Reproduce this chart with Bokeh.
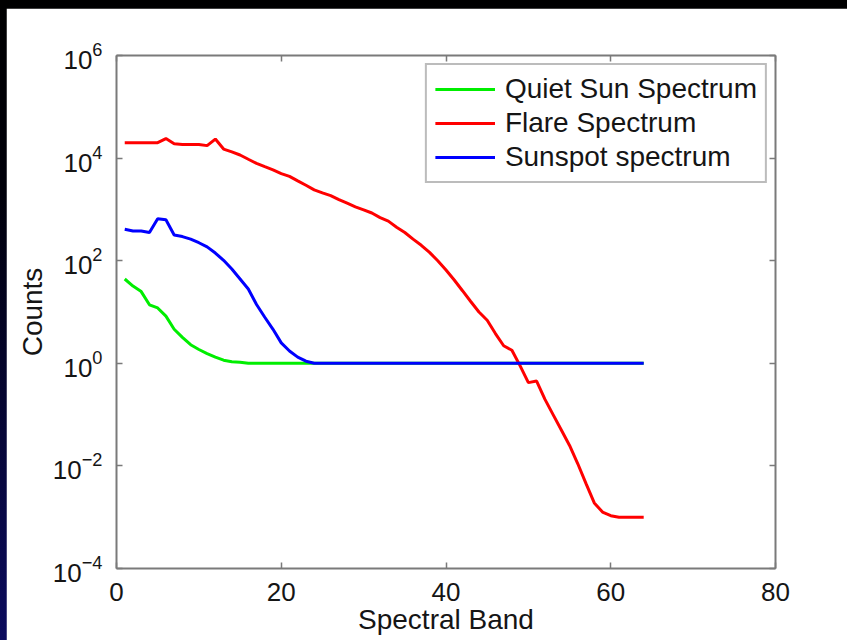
from bokeh.plotting import figure
from bokeh.models import (LinearAxis, LogAxis, FixedTicker, Legend, LegendItem,
                          Range1d)
from bokeh.layouts import column
from bokeh.embed import file_html
from bokeh.resources import INLINE

# Spectral band index and counts for each spectrum
bands = list(range(1, 65))

quiet_sun = [44, 32, 25, 13.8, 12, 8.3, 4.6, 3.2, 2.3, 1.86, 1.55, 1.32, 1.15,
             1.07, 1.05] + [1.0] * 49

flare = [2.0e4, 2.0e4, 2.0e4, 2.0e4, 2.0e4, 2.4e4, 1.9e4, 1.85e4, 1.85e4, 1.85e4,
         1.75e4, 2.35e4, 1.5e4, 1.32e4, 1.15e4, 9.5e3, 7.9e3, 6.8e3, 5.9e3, 5.0e3,
         4.4e3, 3.6e3, 2.95e3, 2.4e3, 2.1e3, 1.86e3, 1.55e3, 1.32e3, 1.12e3, 980,
         850, 690, 590, 450, 355, 263, 200, 145, 100, 66,
         42, 26, 16, 10, 6.9, 3.8, 2.2, 1.8, 0.89, 0.42,
         0.45, 0.20, 0.10, 0.050, 0.025, 0.011, 0.0045, 0.0019, 0.00126, 0.00107,
         0.001, 0.001, 0.001, 0.001]

sunspot = [410, 380, 380, 355, 660, 630, 316, 295, 263, 224, 186, 141, 102, 69,
           44, 28, 14, 7.9, 4.6, 2.5, 1.74, 1.32, 1.1] + [1.0] * 41

x_ticks = [0, 20, 40, 60, 80]
y_ticks = [1e-4, 1e-2, 1e0, 1e2, 1e4, 1e6]

FONT = "Liberation Sans"
AXIS_GREY = "#7a7a7a"
TEXT = "#151515"

p = figure(width=841, height=632, y_axis_type="log",
           x_range=Range1d(0, 80), y_range=Range1d(1e-4, 1e6),
           output_backend="svg", toolbar_location=None,
           min_border_left=110, min_border_right=72,
           min_border_top=47, min_border_bottom=72,
           margin=(8, 0, 0, 6))
p.background_fill_color = "white"
p.border_fill_color = "white"
p.outline_line_color = None
p.grid.visible = False

def style_axis(ax, ticks, show_labels):
    ax.ticker = FixedTicker(ticks=ticks)
    ax.axis_line_color = AXIS_GREY
    ax.axis_line_width = 2
    ax.major_tick_line_color = AXIS_GREY
    ax.major_tick_line_width = 1.5
    ax.major_tick_in = 6
    ax.major_tick_out = 0
    ax.minor_tick_line_color = None
    ax.major_label_text_font = FONT
    ax.axis_label_text_font = FONT
    ax.axis_label_text_font_size = "28px"
    ax.axis_label_text_font_style = "normal"
    ax.axis_label_text_color = TEXT
    if show_labels:
        ax.major_label_text_color = TEXT
        ax.major_label_text_font_size = "26px"
        ax.major_label_standoff = 14
    else:
        # mirrored frame side: ticks only
        ax.major_label_text_color = None
        ax.major_label_text_font_size = "6px"
        ax.major_label_standoff = 0

xb = p.xaxis[0]
style_axis(xb, x_ticks, True)
xb.axis_label = "Spectral Band"
xb.axis_label_standoff = 0

yl = p.yaxis[0]
style_axis(yl, y_ticks, True)
yl.axis_label = "Counts"
yl.axis_label_standoff = 2

xt = LinearAxis()
style_axis(xt, x_ticks, False)
p.add_layout(xt, "above")

yr = LogAxis()
style_axis(yr, y_ticks, False)
p.add_layout(yr, "right")

r_quiet = p.line(bands, quiet_sun, line_color="#00ee00", line_width=3)
r_flare = p.line(bands, flare, line_color="#ff0000", line_width=3)
r_spot = p.line(bands, sunspot, line_color="#0000ff", line_width=3)

legend = Legend(items=[
    LegendItem(label="Quiet Sun Spectrum", renderers=[r_quiet]),
    LegendItem(label="Flare Spectrum", renderers=[r_flare]),
    LegendItem(label="Sunspot spectrum", renderers=[r_spot]),
], location="top_right")
legend.margin = 8
legend.padding = 8
legend.spacing = 2
legend.glyph_width = 60
legend.glyph_height = 32
legend.label_height = 32
legend.label_standoff = 10
legend.label_text_font = FONT
legend.label_text_font_size = "28px"
legend.label_text_color = TEXT
legend.border_line_color = AXIS_GREY
legend.border_line_width = 2
legend.background_fill_color = "white"
legend.background_fill_alpha = 1
p.add_layout(legend)

page = column(p, width=847, height=640,
              styles={"background": "linear-gradient(to bottom, #000000 0%, #00000a 30%, #0b0b5e 100%)"})

with open("out.html", "w") as f:
    f.write(file_html(page, INLINE))
